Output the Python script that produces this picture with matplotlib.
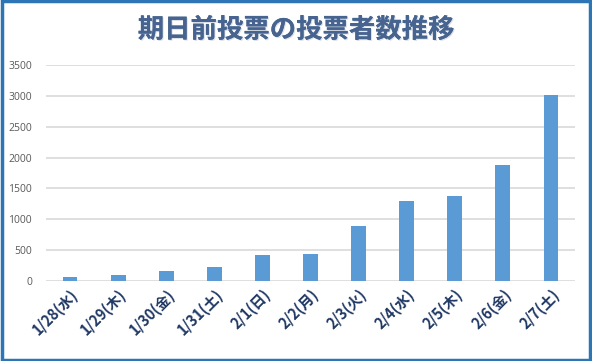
import matplotlib
matplotlib.use("Agg")
import matplotlib.pyplot as plt
from matplotlib.patches import Rectangle
import matplotlib.patheffects as pe

plt.rcParams['font.family'] = ['Noto Sans CJK JP', 'DejaVu Sans']

categories = ["1/28(水)", "1/29(木)", "1/30(金)", "1/31(土)", "2/1(日)", "2/2(月)",
              "2/3(火)", "2/4(水)", "2/5(木)", "2/6(金)", "2/7(土)"]
values = [65, 100, 167, 228, 421, 437, 890, 1295, 1378, 1885, 3015]
yticks = [0, 500, 1000, 1500, 2000, 2500, 3000, 3500]
title = "期日前投票の投票者数推移"

fig = plt.figure(figsize=(5.92, 3.61), dpi=100)
ax = fig.add_axes([46/592, 1-281/361, (575-46)/592, (281-65)/361])

x = range(len(categories))
ax.bar(x, values, width=0.31, color="#5B9BD5", zorder=3)
ax.set_xlim(-0.5, len(categories)-0.5)
ax.set_ylim(0, 3500)
ax.set_yticks(yticks)
ax.set_yticklabels([str(v) for v in yticks], color="#595959", fontsize=7.5,
                   family=['Open Sans', 'DejaVu Sans'])
ax.set_xticks(list(x))
ax.set_xticklabels(categories, rotation=45, ha="right", rotation_mode="anchor",
                   fontsize=10.5, fontweight="bold", color="#1F3864")
ax.tick_params(axis="both", length=0)
ax.tick_params(axis="y", pad=10)
ax.tick_params(axis="x", pad=4)
for s in ax.spines.values():
    s.set_visible(False)
ax.grid(axis="y", color="#D9D9D9", linewidth=1.2, zorder=0)
ax.set_axisbelow(True)

fig.text(0.5, 1-30/361, title, ha="center", va="center", fontsize=19,
         fontweight="bold", color="#46648F",
         path_effects=[pe.withSimplePatchShadow(offset=(0.8, -0.8), shadow_rgbFace="#B8C2D0", alpha=0.5),
                       pe.Normal()])

fig.patches.append(Rectangle((0.003, 0.004), 0.994, 0.992, transform=fig.transFigure,
                             fill=False, edgecolor="#2E75B6", linewidth=2.5))

fig.savefig("out.png", dpi=100)
